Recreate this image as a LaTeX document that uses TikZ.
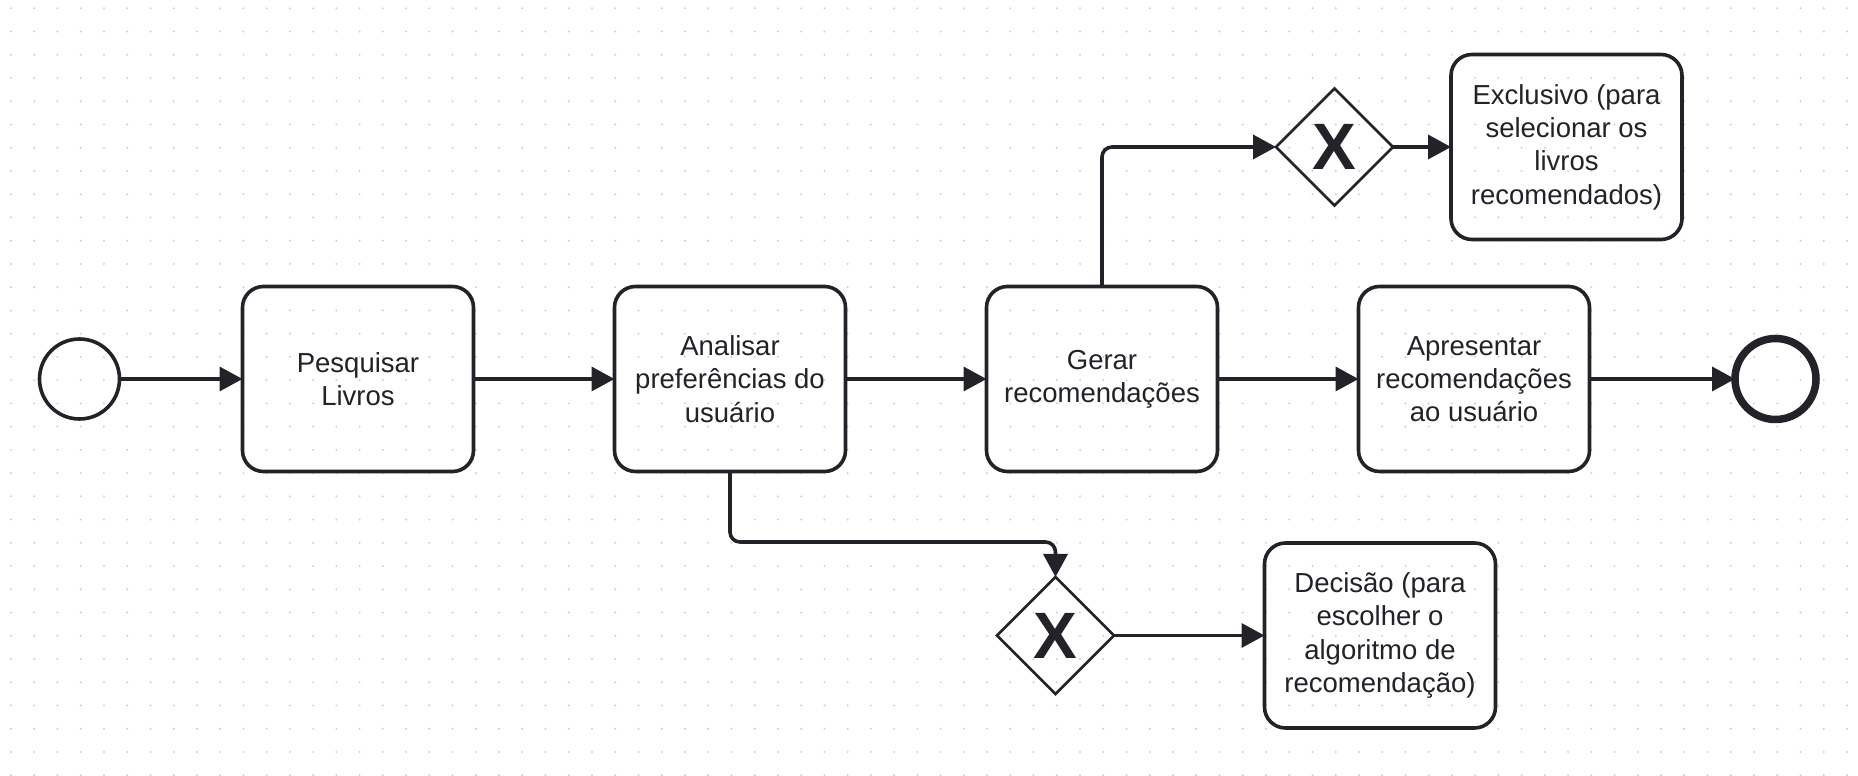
\documentclass[tikz,border=0pt]{standalone}
\usepackage{fontspec}
\setmainfont{Liberation Sans}
\usetikzlibrary{shapes.geometric, arrows.meta, positioning}

\definecolor{ink}{RGB}{34,34,40}
\definecolor{griddot}{RGB}{208,208,208}

\begin{document}
\begin{tikzpicture}[x=1pt, y=1pt,
  node distance = 141pt,
  task/.style={rectangle, rounded corners=21pt, draw=ink, line width=3.6pt,
    minimum width=231pt, minimum height=185pt, inner sep=0pt, outer sep=0pt,
    align=center, text=ink, font={\fontsize{27.5}{33.3}\selectfont}},
  startev/.style={circle, draw=ink, line width=3.6pt, minimum size=80pt,
    inner sep=0pt, outer sep=0pt},
  endev/.style={circle, draw=ink, line width=7.5pt, minimum size=81pt,
    inner sep=0pt, outer sep=0pt},
  gateway/.style={diamond, aspect=1, draw=ink, line width=2.7pt, minimum size=117pt,
    inner sep=0pt, outer sep=0pt, text=ink,
    font={\fontsize{65.6}{70}\selectfont\bfseries}},
  flow/.style={draw=ink, line width=3.6pt, rounded corners=10pt,
    -{Triangle[length=23pt, width=24pt]}}]

  % background with dots
  \fill[white] (0,0) rectangle (1858,776);
  \useasboundingbox (0,0) rectangle (1858,776);
  \foreach \i in {0,...,79}
    \foreach \j in {0,...,33}
      \fill[griddot] ({11+23.24*\i},{767.7-23.24*\j}) circle (1.1pt);

  % main row
  \node[startev] (start) at (79.5,397) {};
  \node[task, right=123pt of start] (pesq) {Pesquisar\\Livros};
  \node[task, right=of pesq] (anal) {Analisar\\preferências do\\usuário};
  \node[task, right=of anal] (gerar) {Gerar\\recomendações};
  \node[task, right=of gerar] (apres) {Apresentar\\recomendações\\ao usuário};
  \node[endev, right=145.5pt of apres] (fim) {};

  % gateways
  \node[gateway] (gwtop) at (1334.5,629) {X};
  \node[task, right=58pt of gwtop] (excl) {Exclusivo (para\\selecionar os\\livros\\recomendados)};
  \node[gateway] (gwbot) at (1055.5,140.5) {X};
  \node[task, right=150.5pt of gwbot] (decis) {Decisão (para\\escolher o\\algoritmo de\\recomendação)};

  \draw[flow] (start) -- (pesq);
  \draw[flow] (pesq) -- (anal);
  \draw[flow] (anal) -- (gerar);
  \draw[flow] (gerar) -- (apres);
  \draw[flow] (apres) -- (fim);
  \draw[flow] (gerar.north) |- (gwtop.west);
  \draw[flow] (gwtop) -- (excl);
  \draw[flow] (anal.south) |- ([yshift=35pt]gwbot.north) -- (gwbot.north);
  \draw[flow] (gwbot) -- (decis);
\end{tikzpicture}
\end{document}
